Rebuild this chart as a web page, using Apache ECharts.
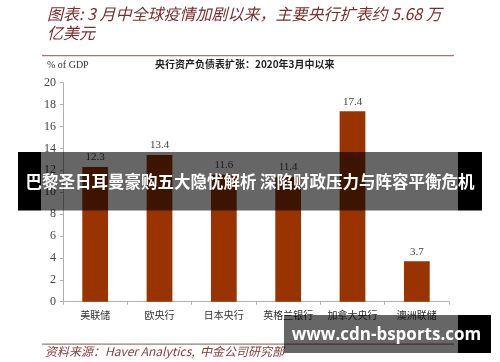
<!DOCTYPE html>
<html><head><meta charset="utf-8">
<script src="https://cdn.jsdelivr.net/npm/echarts@6/dist/echarts.min.js"></script>
<style>html,body{margin:0;padding:0;background:#fff}#c{width:500px;height:362px}</style>
</head><body><div id="c"></div>
<script>
const categories = ['美联储','欧央行','日本央行','英格兰银行','加拿大央行','澳洲联储'];
const values = [12.3, 13.4, 11.6, 11.4, 17.4, 3.7];
const yTicks = [0,2,4,6,8,10,12,14,16,18,20];
const titleLines = ['图表: 3 月中全球疫情加剧以来，主要央行扩表约 5.68 万','亿美元'];
const subTitle = '央行资产负债表扩张：2020年3月中以来';
const unitLabel = '% of GDP';
const sourceText = '资料来源：Haver Analytics,  中金公司研究部';
const bannerText = '巴黎圣日耳曼豪购五大隐忧解析 深陷财政压力与阵容平衡危机';
const watermarkText = 'www.cdn-bsports.com';

const chart = echarts.init(document.getElementById('c'), null, {renderer:'canvas'});
const serif = 'Liberation Serif';
const cjk = 'Noto Sans CJK SC';
chart.setOption({
  animation:false,
  backgroundColor:'#fff',
  grid:{left:63,right:51,top:82.7,bottom:60.3,containLabel:false},
  xAxis:{type:'category',data:categories,
    axisLine:{lineStyle:{color:'#b0b0b0'}},
    axisTick:{show:true,length:3,lineStyle:{color:'#b0b0b0'}},
    axisLabel:{interval:0,fontFamily:cjk,fontSize:10,color:'#333',margin:9}},
  yAxis:{type:'value',min:yTicks[0],max:yTicks[yTicks.length-1],interval:2,
    axisLine:{show:true,lineStyle:{color:'#b0b0b0'}},
    axisTick:{show:true,length:3,lineStyle:{color:'#b0b0b0'}},
    splitLine:{show:false},
    axisLabel:{fontFamily:serif,fontSize:12,color:'#444',margin:7}},
  series:[{type:'bar',data:values,barWidth:'40%',
    itemStyle:{color:'#993300'},
    label:{show:true,position:'top',distance:4,fontFamily:serif,fontSize:11,color:'#444'}}],
  graphic:[
    {type:'text',left:47,top:6,style:{text:titleLines[0],font:'italic 16px "Noto Sans CJK SC"',fill:'#7b2e2e'}},
    {type:'text',left:47,top:25,style:{text:titleLines[1],font:'italic 16px "Noto Sans CJK SC"',fill:'#7b2e2e'}},
    {type:'rect',shape:{x:42,y:55,width:412,height:1.2},style:{fill:'#9c7b76'}},
    {type:'text',left:47,top:60,style:{text:unitLabel,font:'10px "Liberation Serif"',fill:'#333'}},
    {type:'text',left:155,top:59,style:{text:subTitle,font:'bold 10px "Noto Sans CJK SC"',fill:'#222'}},
    {type:'rect',shape:{x:42,y:343.5,width:412,height:1.2},style:{fill:'#9c7b76'}},
    {type:'text',left:45,top:345,style:{text:sourceText,font:'italic 12px "Noto Sans CJK SC"',fill:'#8b3a3a'}},
    {type:'rect',z:100,shape:{x:41,y:152,width:417,height:58.5},style:{fill:'rgba(0,0,0,0.6)'}},
    {type:'rect',z:100,shape:{x:18,y:152,width:23,height:58.5},style:{fill:'#000'}},
    {type:'rect',z:100,shape:{x:458,y:152,width:24,height:58.5},style:{fill:'#000'}},
    {type:'text',z:101,x:250,y:182,style:{text:bannerText,font:'bold 16.5px "Noto Sans CJK SC"',fill:'#fff',align:'center',verticalAlign:'middle'}},
    {type:'rect',z:100,shape:{x:284,y:315,width:174,height:38},style:{fill:'rgba(0,0,0,0.6)'}},
    {type:'rect',z:100,shape:{x:458,y:315,width:33,height:38},style:{fill:'#000'}},
    {type:'text',z:101,x:386.5,y:335,style:{text:watermarkText,font:'bold 17px "Open Sans"',fill:'#fff',align:'center',verticalAlign:'middle'}}
  ]
});
</script></body></html>
